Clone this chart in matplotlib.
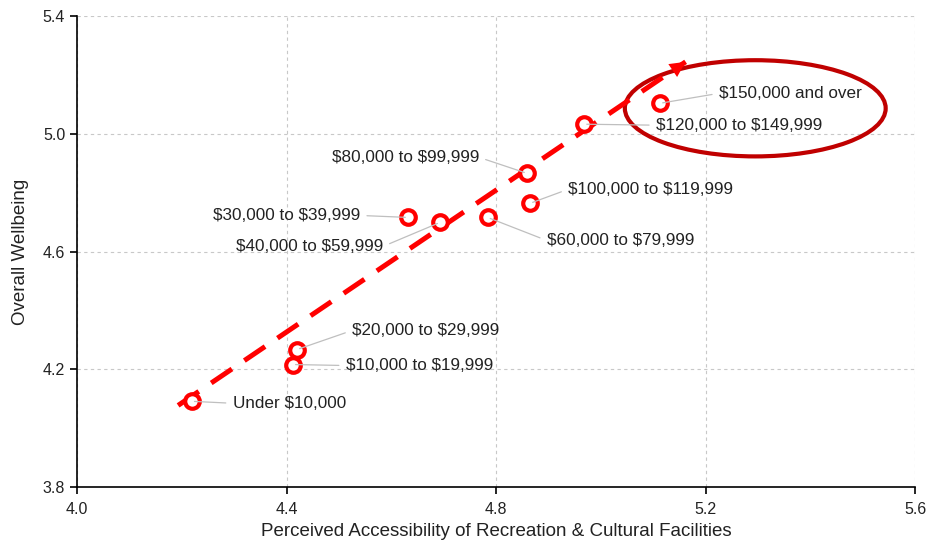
import numpy as np
import matplotlib.pyplot as plt
from matplotlib.patches import Ellipse

plt.rcParams['font.family'] = ['Liberation Sans', 'DejaVu Sans']
plt.rcParams['text.parse_math'] = False

# income groups and their scores
income_groups = ["Under $10,000", "$10,000 to $19,999", "$20,000 to $29,999",
                 "$30,000 to $39,999", "$40,000 to $59,999", "$60,000 to $79,999",
                 "$80,000 to $99,999", "$100,000 to $119,999", "$120,000 to $149,999",
                 "$150,000 and over"]
accessibility = [4.219, 4.412, 4.420, 4.632, 4.693, 4.784, 4.859, 4.865, 4.968, 5.113]
wellbeing = [4.091, 4.216, 4.267, 4.716, 4.699, 4.716, 4.866, 4.764, 5.033, 5.104]

# trend arrow end points
trend_x = [4.193, 5.162]
trend_y = [4.077, 5.245]

# highlight ellipse (center x, center y, width, height)
highlight = (5.295, 5.087, 0.498, 0.327)

# label offsets in pixels (dx, dy, ha)
label_pos = [(41, -2, 'left'), (53, -1, 'left'), (55, 19, 'left'),
             (-48, 2, 'right'), (-57, -24, 'right'), (59, -23, 'left'),
             (-48, 16, 'right'), (38, 14, 'left'), (72, -1, 'left'),
             (59, 10, 'left')]

fig = plt.figure(figsize=(9.28, 5.41), dpi=100)
ax = fig.add_axes([0.083, 0.1, 0.903, 0.87])

ax.set_xlim(4.0, 5.6)
ax.set_ylim(3.8, 5.4)
ax.set_xticks(np.arange(4.0, 5.61, 0.4))
ax.set_yticks(np.arange(3.8, 5.41, 0.4))
ax.xaxis.set_major_formatter(plt.FormatStrFormatter('%.1f'))
ax.yaxis.set_major_formatter(plt.FormatStrFormatter('%.1f'))
ax.grid(True, color='#C8C8C8', linestyle=(0, (3, 3)), linewidth=0.8)
ax.set_axisbelow(True)
for side in ['top', 'right']:
    ax.spines[side].set_visible(False)
for side in ['left', 'bottom']:
    ax.spines[side].set_linewidth(1.2)
ax.tick_params(direction='out', length=5, width=1.2, labelsize=11.5, colors='black',
               labelcolor='#222222')
ax.tick_params(axis='x', pad=6)

ax.set_xlabel("Perceived Accessibility of Recreation & Cultural Facilities",
              fontsize=13.5, color='#222222', labelpad=4)
ax.set_ylabel("Overall Wellbeing", fontsize=13.5, color='#222222', labelpad=10)

# highlight ellipse sits under the trend arrow
cx, cy, w, h = highlight
ax.add_patch(Ellipse((cx, cy), w, h, fill=False, edgecolor='#C00000',
                     linewidth=3, zorder=2.5))

# trend line
ax.plot(trend_x, trend_y, color='#FF0000', linewidth=3.6, dashes=(5, 3),
        solid_capstyle='butt', zorder=3)
dx = trend_x[1] - trend_x[0]
dy = trend_y[1] - trend_y[0]
ax.annotate('', xy=(trend_x[1], trend_y[1]),
            xytext=(trend_x[1] - dx * 0.03, trend_y[1] - dy * 0.03),
            arrowprops=dict(arrowstyle='-|>', color='#FF0000', lw=0,
                            mutation_scale=28, shrinkA=0, shrinkB=0), zorder=3)

ax.scatter(accessibility, wellbeing, s=110, facecolors='white',
           edgecolors='#FF0000', linewidths=3, zorder=4)

for name, x, y, (ox, oy, ha) in zip(income_groups, accessibility, wellbeing, label_pos):
    ax.annotate(name, xy=(x, y), xytext=(ox, oy), textcoords='offset pixels',
                ha=ha, va='center', fontsize=12.3, color='#222222',
                arrowprops=dict(arrowstyle='-', color='#BFBFBF', lw=0.9,
                                shrinkA=3, shrinkB=2,
                                relpos=(0, 0.5) if ha == 'left' else (1, 0.5)),
                zorder=5)

fig.savefig('out.png', dpi=100)
